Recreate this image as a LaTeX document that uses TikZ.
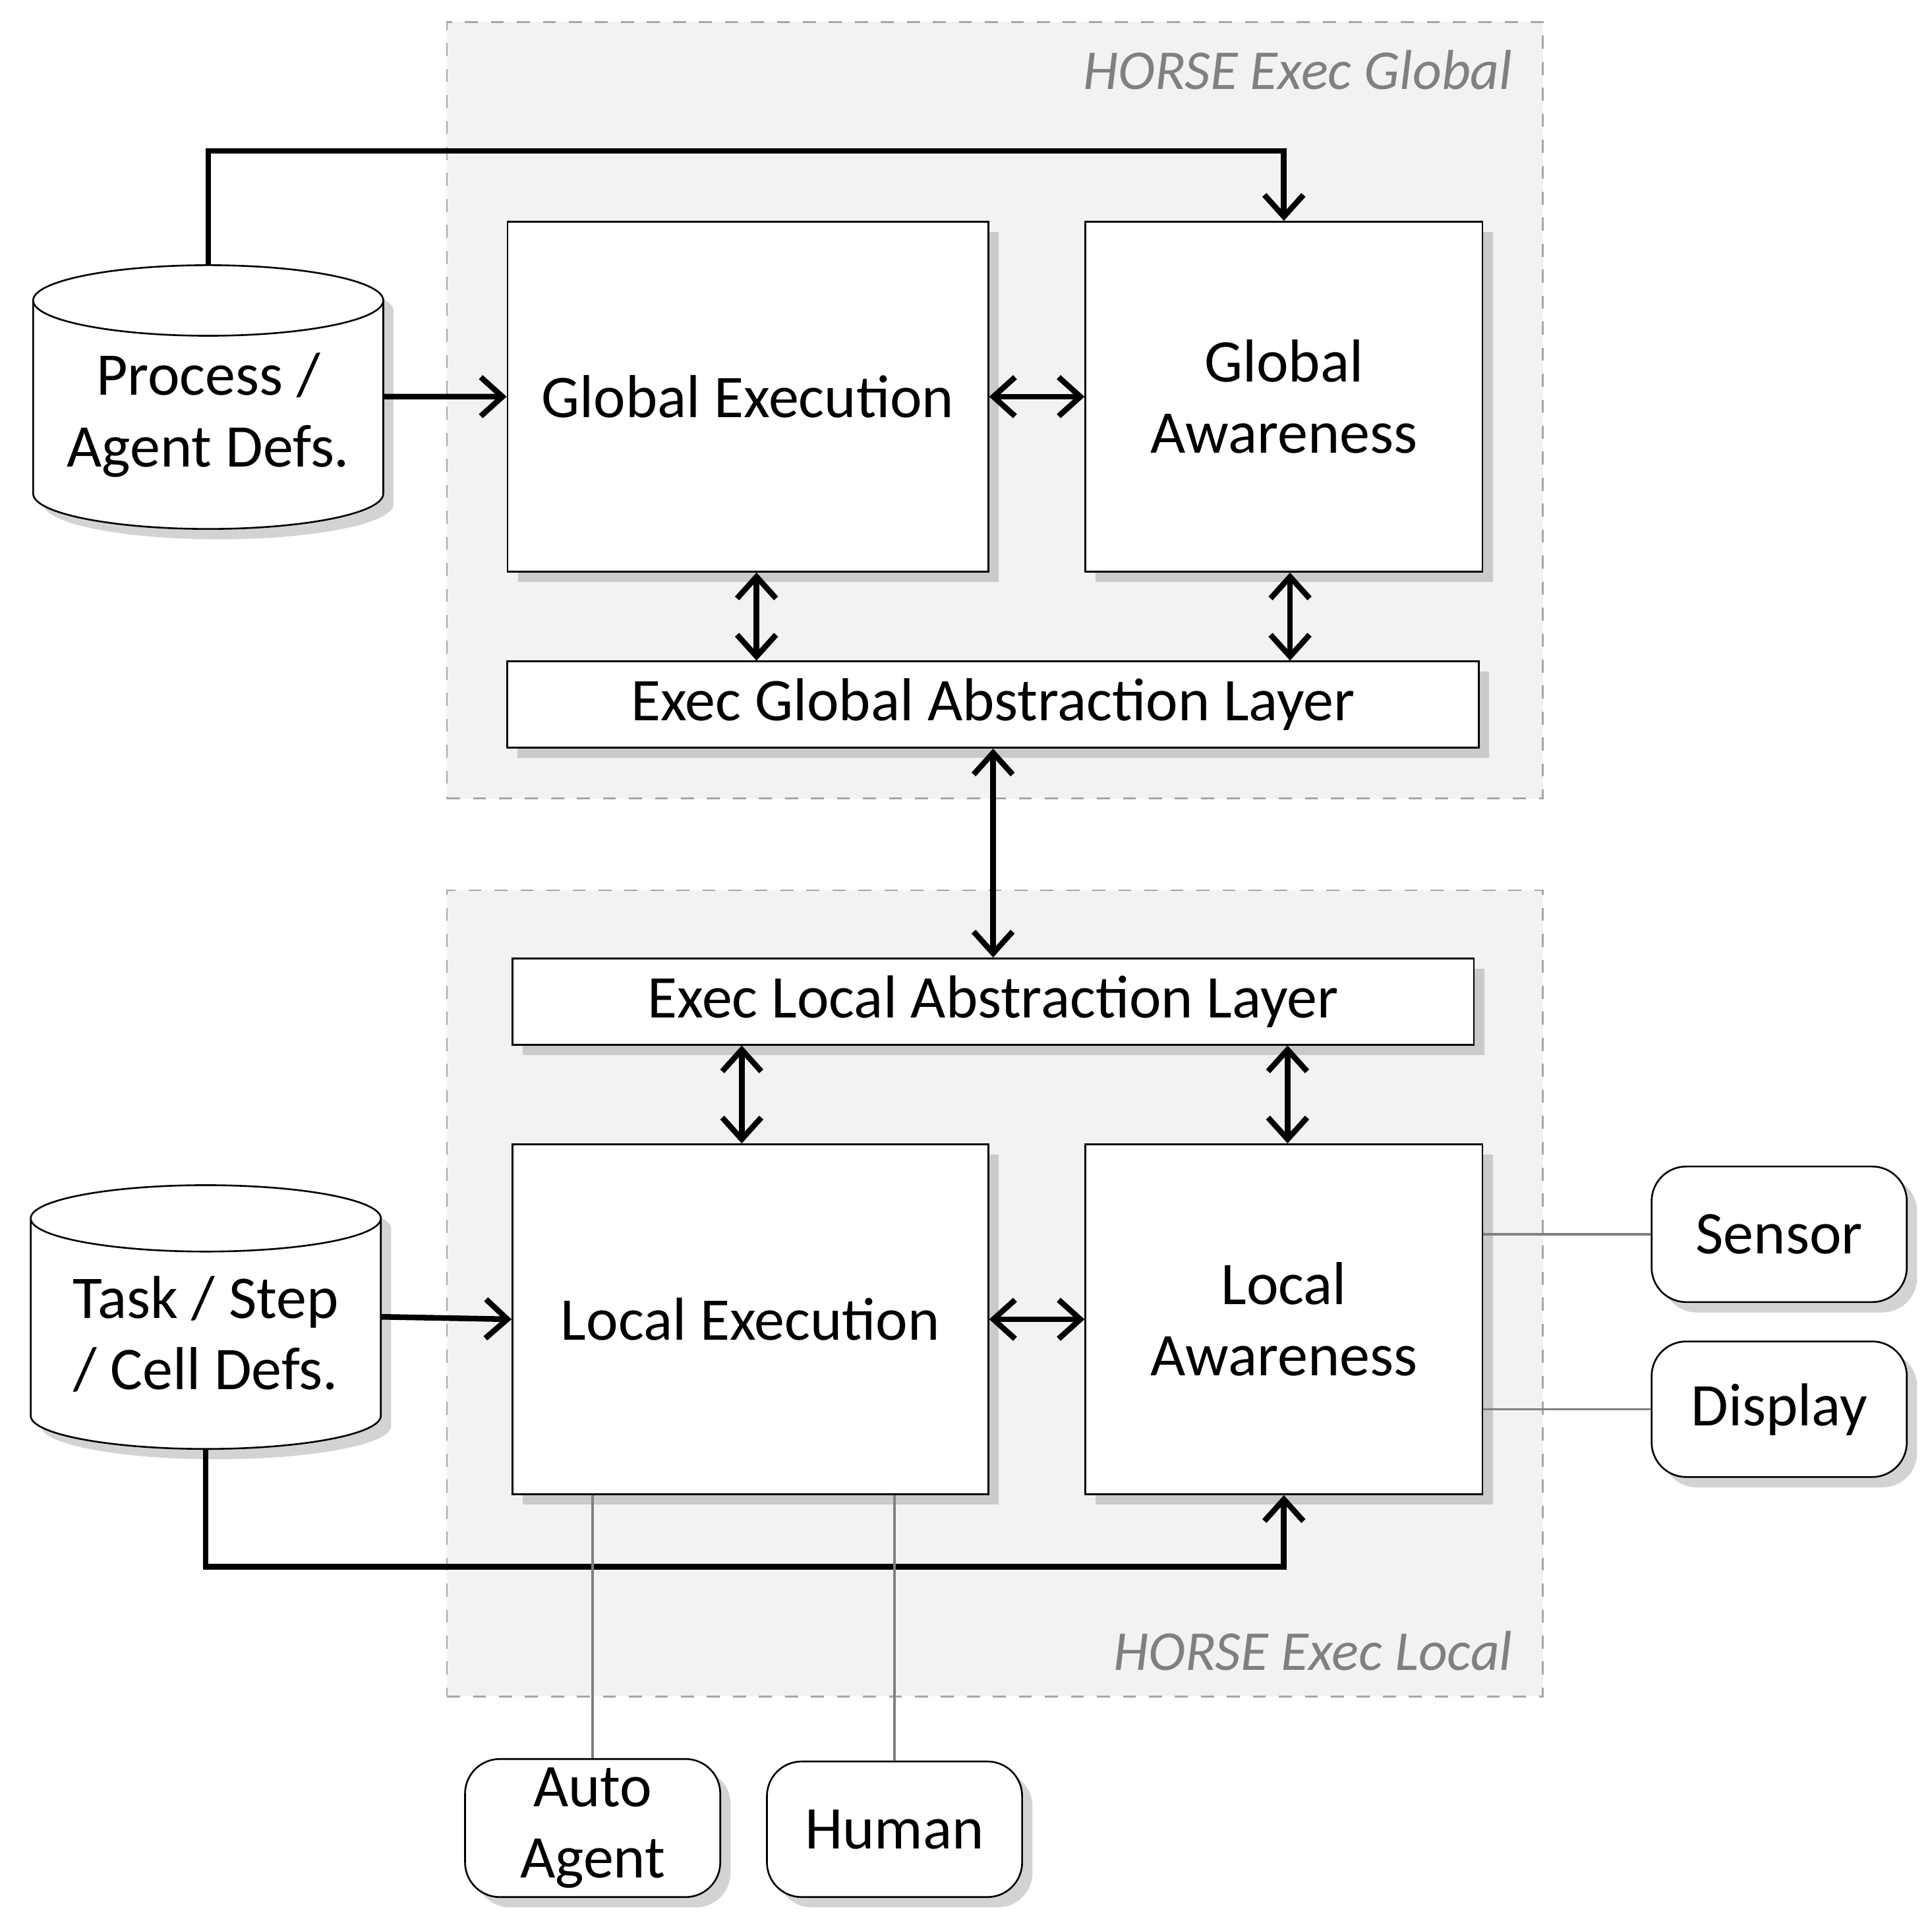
\documentclass[tikz,border=0pt]{standalone}
\usepackage{fontspec}
\setmainfont{Carlito}
\usetikzlibrary{shapes.geometric,shadows,arrows.meta,calc}
\tikzset{
  region/.style={draw=gray!70,dashed,fill=gray!10,minimum width=8.89cm},
  tag/.style={font=\fontsize{13}{16}\selectfont\itshape,text=gray,anchor=east},
  box/.style={draw,fill=white,drop shadow={opacity=0.35},align=center,
    font=\fontsize{14}{16.5}\selectfont,inner sep=0pt},
  db/.style={draw,fill=white,drop shadow={opacity=0.35},cylinder,shape border rotate=90,
    aspect=0.25,align=center,font=\fontsize{14}{16.5}\selectfont,
    minimum width=2.84cm,minimum height=2.14cm,inner sep=0pt},
  dev/.style={box,rounded corners=8pt,minimum width=2.07cm,minimum height=1.1cm},
  link/.style={line width=1.3pt,{Straight Barb[length=5pt,width=9pt]}-{Straight Barb[length=5pt,width=9pt]}},
  feed/.style={line width=1.3pt,-{Straight Barb[length=5pt,width=9pt]}},
  wire/.style={gray,line width=0.5pt}
}
\begin{document}
\begin{tikzpicture}[x=0.01cm,y=0.01cm]
  \useasboundingbox (0,0) rectangle (1568,-1556);
  % containers
  \node[region,minimum height=6.30cm] (global) at (807.5,-333) {};
  \node[region,minimum height=6.54cm] (local) at (807.5,-1050) {};
  \node[tag] (gtag) at (1240,-57) {HORSE Exec Global};
  \node[tag] (ltag) at (1240,-1340) {HORSE Exec Local};
  % global part
  \node[box,minimum width=3.90cm,minimum height=2.84cm] (GE) at (607,-322) {Global Execution};
  \node[box,minimum width=3.22cm,minimum height=2.84cm] (GA) at (1042,-322) {Global\\Awareness};
  \node[box,minimum width=7.88cm,minimum height=0.70cm] (EGAL) at (806,-572) {Exec Global Abstraction Layer};
  \node[db] (PD) at (169,-337) {Process /\\Agent Defs.};
  % local part
  \node[box,minimum width=7.80cm,minimum height=0.70cm] (ELAL) at (806,-813) {Exec Local Abstraction Layer};
  \node[box,minimum width=3.86cm,minimum height=2.84cm] (LE) at (609,-1071) {Local Execution};
  \node[box,minimum width=3.22cm,minimum height=2.84cm] (LA) at (1042,-1071) {Local\\Awareness};
  \node[db] (TD) at (167,-1083) {Task / Step\\/ Cell Defs.};
  % devices
  \node[dev] (sensor) at (1444,-1002) {Sensor};
  \node[dev] (display) at (1444,-1144) {Display};
  \node[dev,minimum height=1.12cm] (auto) at (481,-1484) {Auto\\Agent};
  \node[dev] (human) at (726,-1485) {Human};
  % connectors
  \draw[feed] (PD.north) -- ++(0,92) -| (GA.north);
  \draw[feed] ($(PD.east)+(0,15)$) -- (GE.west);
  \draw[link] ($(GE.south)+(7,0)$) -- ($(EGAL.north)+(-192,0)$);
  \draw[link] (GE.east) -- (GA.west);
  \draw[link] ($(GA.south)+(5,0)$) -- ($(EGAL.north)+(241,0)$);
  \draw[link] (EGAL.south) -- (ELAL.north);
  \draw[link] ($(ELAL.south)+(-204,0)$) -- ($(LE.north)+(-7,0)$);
  \draw[link] ($(ELAL.south)+(239,0)$) -- ($(LA.north)+(3,0)$);
  \draw[feed] ($(TD.east)+(0,14)$) -- (LE.west);
  \draw[link] (LE.east) -- (LA.west);
  \draw[feed] (TD.south) -- ++(0,-95) -| (LA.south);
  \draw[wire] (LA.east |- sensor.west) -- (sensor.west);
  \draw[wire] (LA.east |- display.west) -- (display.west);
  \draw[wire] (LE.south -| auto.north) -- (auto.north);
  \draw[wire] (LE.south -| human.north) -- (human.north);
\end{tikzpicture}
\end{document}
